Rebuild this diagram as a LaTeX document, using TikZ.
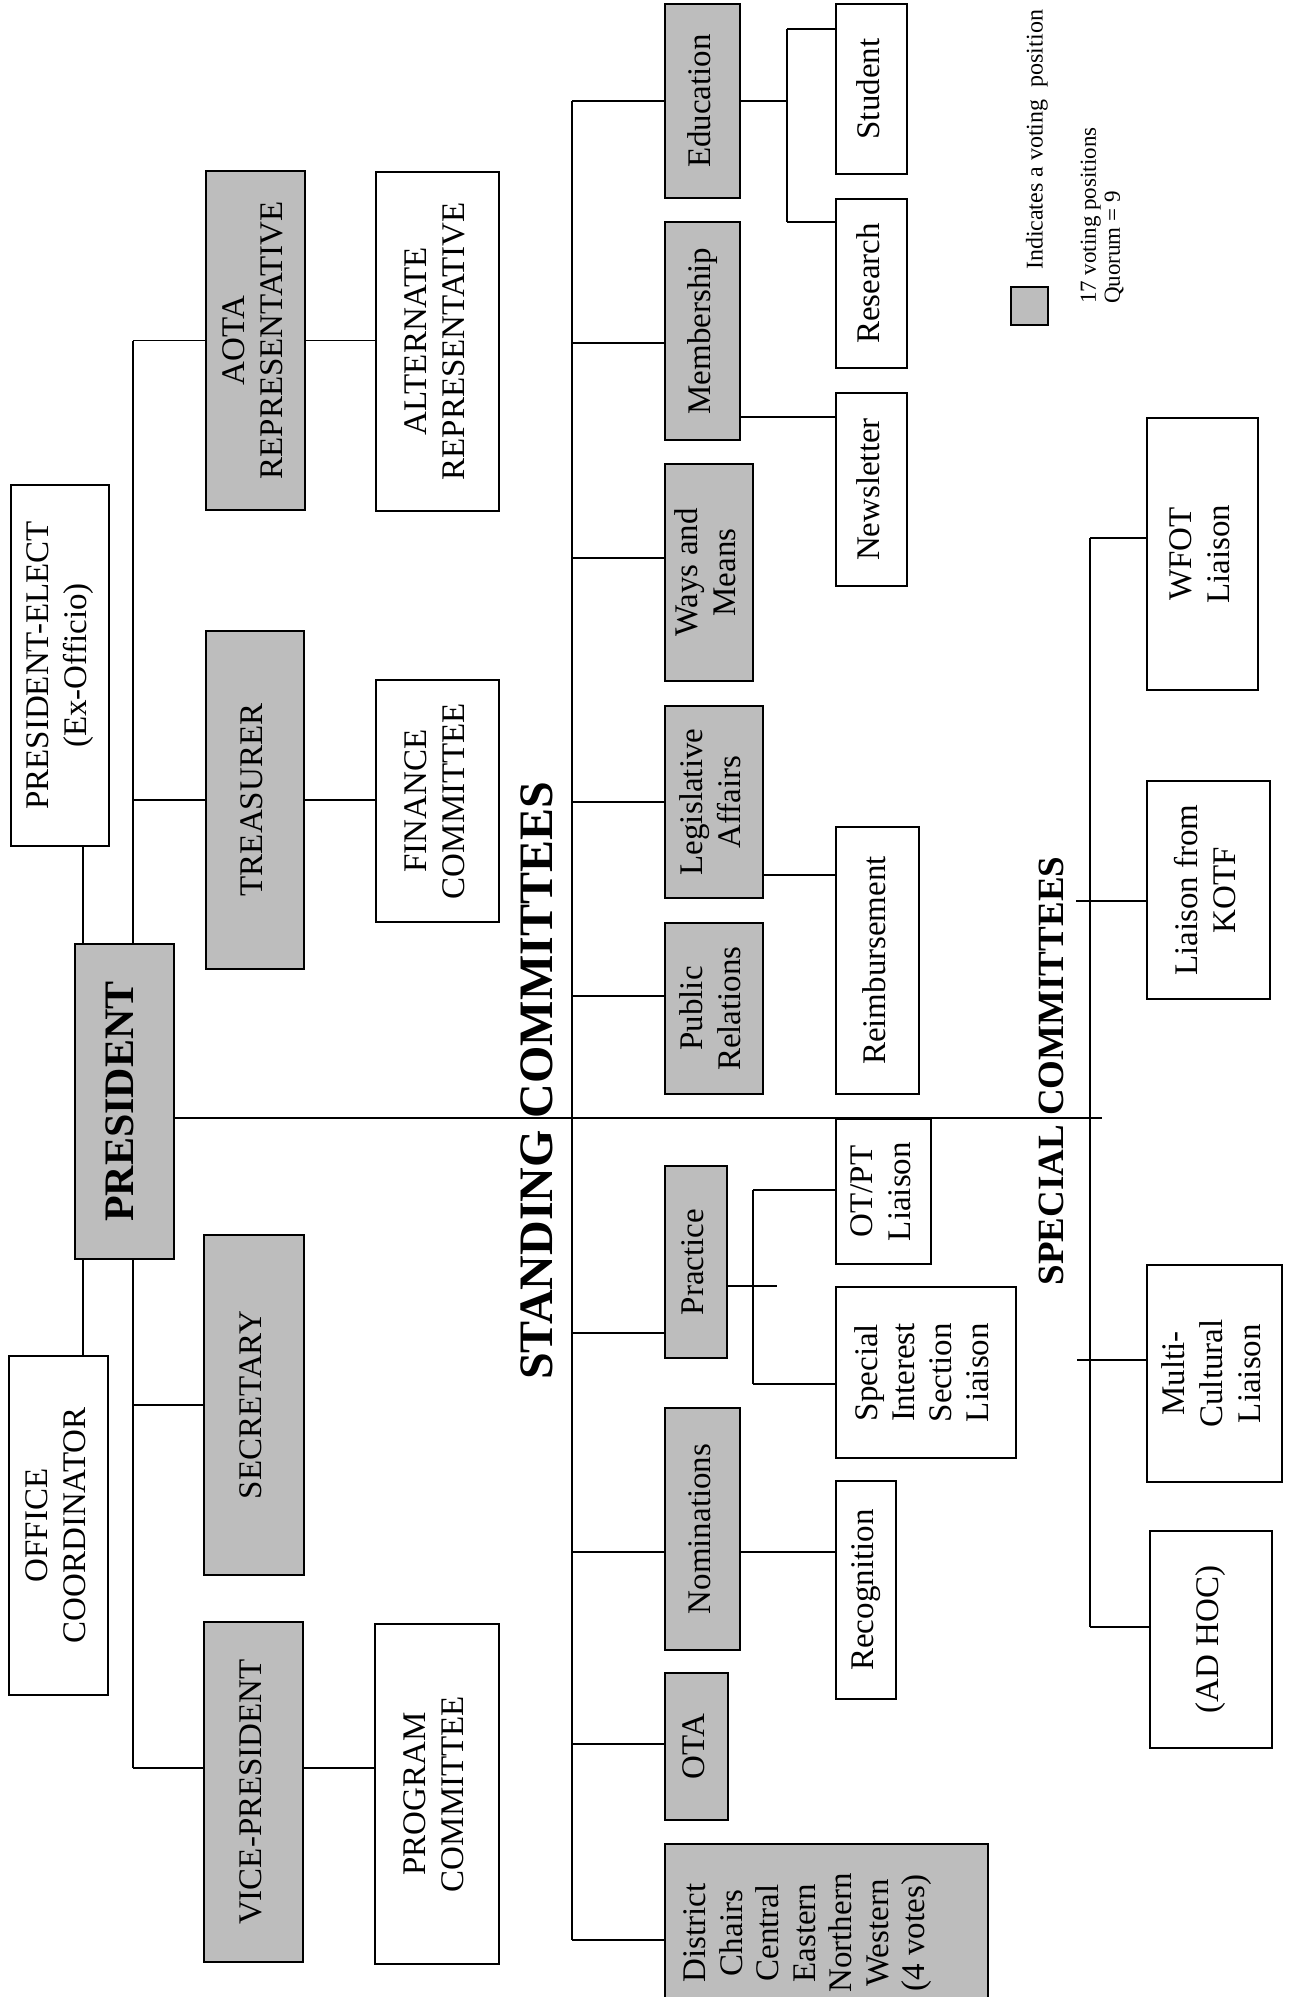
\documentclass[tikz,border=0pt]{standalone}
\usepackage{fontspec}
\setmainfont{Liberation Serif}
\usepackage{graphicx}
\usetikzlibrary{backgrounds}
\newcommand{\rtx}[1]{\rotatebox{90}{\begin{tabular}{@{}c@{}}#1\end{tabular}}}
\newcommand{\rtxl}[1]{\rotatebox{90}{\begin{tabular}{@{}l@{}}#1\end{tabular}}}
\definecolor{vote}{gray}{0.74}
\begin{document}
\begin{tikzpicture}[x=1pt,y=-1pt,
  box/.style={draw, line width=2pt, inner sep=0pt, font=\fontsize{33}{38}\selectfont},
  vbox/.style={box, fill=vote},
  sz/.style 2 args={minimum width=#1, minimum height=#2},
  conn/.style={line width=1.8pt},
  ttl/.style={inner sep=0pt, font=\bfseries\fontsize{48}{56}\selectfont},
  plain/.style={inner sep=0pt}
]
\useasboundingbox (0,0) rectangle (1293,1997);

% officers
\node[box, sz={98}{361}] (pe) at (60,665.5) {\rtx{PRESIDENT-ELECT\\(Ex-Officio)}};
\node[vbox, sz={99}{315}, font=\bfseries\fontsize{42}{46}\selectfont] (pres) at (124.5,1101.5) {\rtx{PRESIDENT}};
\node[box, sz={99}{339}] (oc) at (58.5,1525.5) {\rtx{OFFICE\\COORDINATOR}};
\node[vbox, sz={99}{339}] (aota) at (255.5,340.5) {\rtx{AOTA\\REPRESENTATIVE}};
\node[box, sz={123}{339}] (alt) at (437.5,341.5) {\rtx{ALTERNATE\\REPRESENTATIVE}};
\node[vbox, sz={98}{338}] (treas) at (255,800) {\rtx{TREASURER}};
\node[box, sz={123}{242}] (fin) at (437.5,801) {\rtx{FINANCE\\COMMITTEE}};
\node[vbox, sz={100}{340}] (sec) at (254,1405) {\rtx{SECRETARY}};
\node[vbox, sz={99}{340}] (vp) at (253.5,1792) {\rtx{VICE-PRESIDENT}};
\node[box, sz={124}{340}] (prog) at (437,1794) {\rtx{PROGRAM\\COMMITTEE}};

% standing committees
\node[vbox, sz={75}{194}] (edu) at (702.5,101) {\rtx{Education}};
\node[vbox, sz={75}{218}] (mem) at (702.5,331) {\rtx{Membership}};
\node[vbox, sz={88}{217}] (wm) at (709,572.5) {\rtx{Ways and\\Means}};
\node[vbox, sz={98}{192}] (leg) at (714,802) {\rtx{Legislative\\Affairs}};
\node[vbox, sz={98}{171}] (pr) at (714,1008.5) {\rtx{Public\\Relations}};
\node[vbox, sz={62}{192}] (prac) at (696,1262) {\rtx{Practice}};
\node[vbox, sz={75}{242}] (nom) at (702.5,1529) {\rtx{Nominations}};
\node[vbox, sz={63}{147}] (ota) at (696.5,1746.5) {\rtx{OTA}};
\node[vbox, sz={323}{170}] (dist) at (826.5,1929) {};
\node[plain, font=\fontsize{33}{36.5}\selectfont] (disttxt) at (808,1933) {\rtx{District\\Chairs\\Central\\Eastern\\Northern\\Western\\(4 votes)}};

% sub committees
\node[box, sz={71}{170}] (stu) at (871.5,89) {\rtx{Student}};
\node[box, sz={71}{169}] (res) at (871.5,283.5) {\rtx{Research}};
\node[box, sz={71}{193}] (news) at (871.5,489.5) {\rtx{Newsletter}};
\node[box, sz={83}{267}] (reimb) at (877.5,960.5) {\rtx{Reimbursement}};
\node[box, sz={95}{145}] (otpt) at (883.5,1191.5) {\rtx{OT/PT\\Liaison}};
\node[box, sz={180}{171}, font=\fontsize{33}{37}\selectfont] (sis) at (926,1372.5) {\rtx{Special\\Interest\\Section\\Liaison}};
\node[box, sz={60}{218}] (rec) at (866,1590) {\rtx{Recognition}};

% special committees
\node[box, sz={111}{272}] (wfot) at (1202.5,554) {\rtx{WFOT\\Liaison}};
\node[box, sz={123}{218}] (kotf) at (1208.5,890) {\rtx{Liaison from\\KOTF}};
\node[box, sz={135}{217}] (mcl) at (1214.5,1373.5) {\rtx{Multi-\\Cultural\\Liaison}};
\node[box, sz={122}{217}] (adhoc) at (1211,1639.5) {\rtx{(AD HOC)}};

% titles
\node[ttl] (stc) at (537,1081) {\rotatebox{90}{STANDING COMMITTEES}};
\node[ttl, font=\bfseries\fontsize{37}{44}\selectfont] (spc) at (1051,1071) {\rotatebox{90}{SPECIAL COMMITTEES}};

% legend
\node[vbox, sz={37}{38}] (lgbox) at (1029.5,306) {};
\node[plain, font=\fontsize{24}{26}\selectfont] (lgtxt) at (1037,140) {\rotatebox{90}{Indicates a voting\ \ position}};
\node[plain, anchor=south, font=\fontsize{23}{24}\selectfont] (lgq) at (1103,304) {\rtxl{17 voting positions\\Quorum = 9}};

% columns and rows
\coordinate (cL) at (83,0);
\coordinate (cO) at (133,0);
\coordinate (cS) at (572,0);
\coordinate (cP) at (787,0);
\coordinate (cQ) at (753,0);
\coordinate (cX) at (1090,0);
\coordinate (rMain) at (0,1118);
\coordinate (rVP) at (0,1768);
\coordinate (rMem) at (0,343);
\coordinate (rWM) at (0,558);
\coordinate (rPR) at (0,996);
\coordinate (rPrac) at (0,1333);
\coordinate (rNom) at (0,1552);
\coordinate (rOTA) at (0,1744);
\coordinate (rDist) at (0,1940);
\coordinate (rStu) at (0,29);
\coordinate (rRes) at (0,222);
\coordinate (rNews) at (0,417);
\coordinate (rReimb) at (0,875);
\coordinate (rPracR) at (0,1286);
\coordinate (pracEnd) at (777,1286);
\coordinate (rOT) at (0,1190);
\coordinate (rSIS) at (0,1384);
\coordinate (rWF) at (0,538);
\coordinate (rKO) at (0,901);
\coordinate (rMC) at (0,1360);
\coordinate (rAH) at (0,1627);
\coordinate (kStub) at (1076,901);
\coordinate (mStub) at (1077,1360);
\coordinate (mainEnd) at (1102,1118);

\begin{pgfonlayer}{background}
% officers
\draw[conn] (pe.south -| cL) -- (pres.north -| cL);
\draw[conn] (pres.south -| cL) -- (oc.north -| cL);
\draw[conn] (cO |- aota.west) -- (cO |- rVP);
\draw[conn] (cO |- aota.west) -- (aota.west);
\draw[conn] (aota.east) -- (aota.east -| alt.west);
\draw[conn] (cO |- treas.west) -- (treas.west);
\draw[conn] (treas.east) -- (treas.east -| fin.west);
\draw[conn] (cO |- sec.west) -- (sec.west);
\draw[conn] (cO |- rVP) -- (vp.west |- rVP);
\draw[conn] (vp.east |- rVP) -- (prog.west |- rVP);
% main line
\draw[conn] (pres.east |- rMain) -- (mainEnd);
% standing spine
\draw[conn] (cS |- edu.west) -- (cS |- rDist);
\draw[conn] (cS |- edu.west) -- (edu.west);
\draw[conn] (cS |- rMem) -- (mem.west |- rMem);
\draw[conn] (cS |- rWM) -- (wm.west |- rWM);
\draw[conn] (cS |- leg.west) -- (leg.west);
\draw[conn] (cS |- rPR) -- (pr.west |- rPR);
\draw[conn] (cS |- rPrac) -- (prac.west |- rPrac);
\draw[conn] (cS |- rNom) -- (nom.west |- rNom);
\draw[conn] (cS |- rOTA) -- (ota.west |- rOTA);
\draw[conn] (cS |- rDist) -- (dist.west |- rDist);
% sub committees
\draw[conn] (edu.east) -- (cP |- edu.east);
\draw[conn] (cP |- rStu) -- (cP |- rRes);
\draw[conn] (cP |- rStu) -- (stu.west |- rStu);
\draw[conn] (cP |- rRes) -- (res.west |- rRes);
\draw[conn] (mem.east |- rNews) -- (news.west |- rNews);
\draw[conn] (leg.east |- rReimb) -- (reimb.west |- rReimb);
\draw[conn] (prac.east |- rPracR) -- (pracEnd);
\draw[conn] (cQ |- rOT) -- (cQ |- rSIS);
\draw[conn] (cQ |- rOT) -- (otpt.west |- rOT);
\draw[conn] (cQ |- rSIS) -- (sis.west |- rSIS);
\draw[conn] (nom.east |- rNom) -- (rec.west |- rNom);
% special committees
\draw[conn] (cX |- rWF) -- (cX |- rAH);
\draw[conn] (cX |- rWF) -- (wfot.west |- rWF);
\draw[conn] (kStub) -- (kotf.west |- rKO);
\draw[conn] (mStub) -- (mcl.west |- rMC);
\draw[conn] (cX |- rAH) -- (adhoc.west |- rAH);
\end{pgfonlayer}
\end{tikzpicture}
\end{document}
